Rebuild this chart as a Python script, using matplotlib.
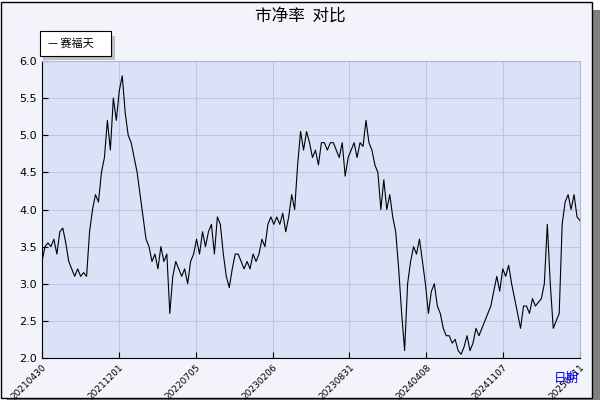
import numpy as np
import matplotlib.pyplot as plt
from matplotlib.patches import Rectangle

plt.rcParams['font.family'] = ['Noto Sans CJK SC', 'DejaVu Sans']

pb = [3.3, 3.5, 3.55, 3.5, 3.6, 3.4, 3.7, 3.75, 3.55, 3.3, 3.2, 3.1, 3.2, 3.1, 3.15, 3.1,
      3.7, 4.0, 4.2, 4.1, 4.5, 4.7, 5.2, 4.8, 5.5, 5.2, 5.6, 5.8, 5.3, 5.0, 4.9, 4.7, 4.5,
      4.2, 3.9, 3.6, 3.5, 3.3, 3.4, 3.2, 3.5, 3.3, 3.4, 2.6, 3.1, 3.3, 3.2, 3.1, 3.2, 3.0,
      3.3, 3.4, 3.6, 3.4, 3.7, 3.5, 3.7, 3.8, 3.4, 3.9, 3.8, 3.4, 3.1, 2.95, 3.2, 3.4, 3.4,
      3.3, 3.2, 3.3, 3.2, 3.4, 3.3, 3.4, 3.6, 3.5, 3.8, 3.9, 3.8, 3.9, 3.8, 3.95, 3.7, 3.9,
      4.2, 4.0, 4.6, 5.05, 4.8, 5.05, 4.9, 4.7, 4.8, 4.6, 4.9, 4.9, 4.8, 4.9, 4.9, 4.8, 4.7,
      4.9, 4.45, 4.7, 4.8, 4.9, 4.7, 4.9, 4.85, 5.2, 4.9, 4.8, 4.6, 4.5, 4.0, 4.4, 4.0, 4.2,
      3.9, 3.7, 3.2, 2.6, 2.1, 3.0, 3.3, 3.5, 3.4, 3.6, 3.3, 3.0, 2.6, 2.9, 3.0, 2.7, 2.6,
      2.4, 2.3, 2.3, 2.2, 2.25, 2.1, 2.05, 2.15, 2.3, 2.1, 2.2, 2.4, 2.3, 2.4, 2.5, 2.6, 2.7,
      2.9, 3.1, 2.9, 3.2, 3.1, 3.25, 3.0, 2.8, 2.6, 2.4, 2.7, 2.7, 2.6, 2.8, 2.7, 2.75, 2.8,
      3.0, 3.8, 3.0, 2.4, 2.5, 2.6, 3.8, 4.1, 4.2, 4.0, 4.2, 3.9, 3.85]
tick_labels = ['20210430', '20211201', '20220705', '20230206', '20230831',
               '20240408', '20241107', '20250611']

fig = plt.figure(figsize=(6, 4), dpi=100, facecolor='white')
# panel with shadow
fig.patches.append(Rectangle((0.012, -0.01), 0.988, 0.985, transform=fig.transFigure,
                             facecolor='#808080', edgecolor='none', zorder=-3))
fig.patches.append(Rectangle((0.002, 0.005), 0.985, 0.99, transform=fig.transFigure,
                             facecolor='#f2f3fb', edgecolor='black', lw=1, zorder=-2))

ax = fig.add_axes([42/600, 42/400, 538/600, 297/400])
ax.set_facecolor('#dbe1f6')
x = np.arange(len(pb))
ax.plot(x, pb, color='black', lw=0.8)
ax.set_xlim(0, len(pb) - 1)
ax.set_ylim(2.0, 6.0)
ticks = np.linspace(0, len(pb) - 1, len(tick_labels))
ax.set_xticks(ticks)
ax.set_xticklabels(tick_labels, rotation=45, ha='right', rotation_mode='anchor',
                   fontsize=6.5, family='DejaVu Sans')
ax.set_yticks(np.arange(2.0, 6.01, 0.5))
ax.set_yticklabels([f'{v:.1f}' for v in np.arange(2.0, 6.01, 0.5)], fontsize=8,
                   family='DejaVu Sans')
ax.grid(True, color='#b8c6ea', lw=0.8)
ax.tick_params(direction='in', length=4)
for s in ax.spines.values():
    s.set_color('#b0b8d8')
ax.spines['left'].set_color('black')
ax.spines['bottom'].set_color('black')

fig.text(0.5, 0.96, '市净率  对比', ha='center', va='center', fontsize=12)
fig.text(0.965, 0.055, '日期', ha='right', va='center', fontsize=9, color='blue')

# legend box
fig.patches.append(Rectangle((43/600, 340/400), 72/600, 24/400, transform=fig.transFigure,
                             facecolor='#c0c0c0', edgecolor='none', zorder=2))
fig.patches.append(Rectangle((40/600, 344/400), 71/600, 25/400, transform=fig.transFigure,
                             facecolor='white', edgecolor='black', lw=0.8, zorder=3))
fig.text(48/600, 357/400, '— 赛福天', fontsize=8, va='center', zorder=4)

fig.savefig('out.png', dpi=100, facecolor=fig.get_facecolor())
